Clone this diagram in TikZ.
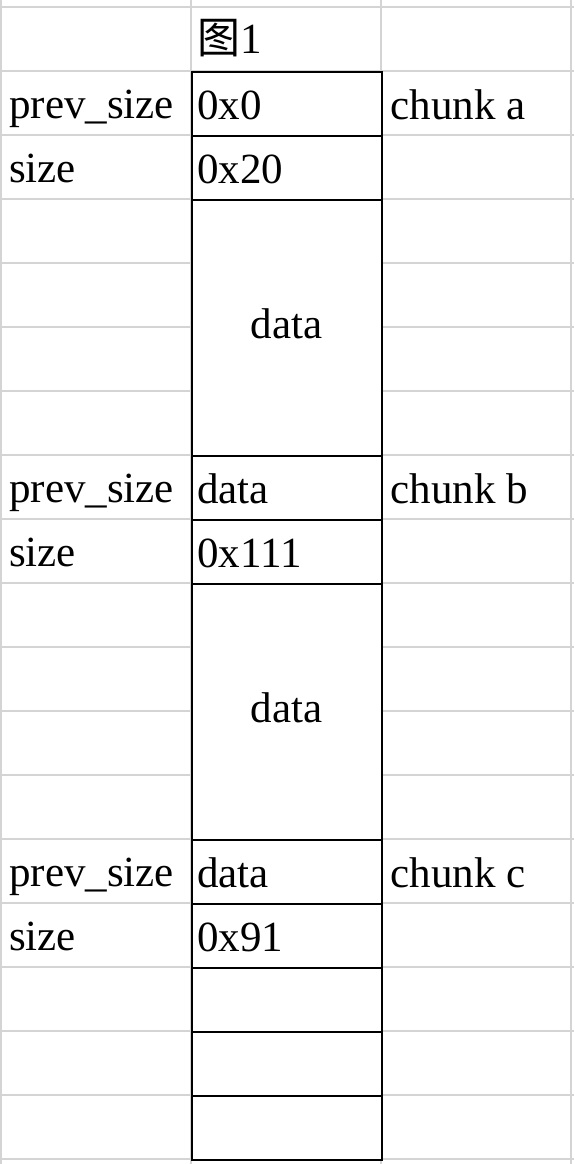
\documentclass[tikz,border=0pt]{standalone}
\usepackage{fontspec}
\setmainfont{Liberation Serif}
\newfontfamily\cjk{Noto Sans CJK SC}
\begin{document}
\begin{tikzpicture}[
			x=1pt,y=-1pt,
			grid line/.style={draw=black!17,line width=1.4pt},
			memcell/.style={draw=black,fill=white,line width=1.6pt,minimum width=190pt,minimum height=64pt,inner sep=0pt,anchor=north west},
			celltext/.style={anchor=base west,inner sep=0pt,font=\fontsize{43}{50}\selectfont}
		]
		\useasboundingbox (0,0) rectangle (574,1164);
		% sheet grid
		\foreach \r in {0,...,18}
			\draw[grid line] (0,7+64*\r) -- (574,7+64*\r);
		\foreach \c in {1,191,381,571}
			\draw[grid line] (\c,0) -- (\c,1164);
		% memory column
		\node[memcell] (prevA) at (191,71) {};
		\node[memcell] (sizeA) at (191,135) {};
		\node[memcell,minimum height=256pt] (dataA) at (191,199) {};
		\node[memcell] (prevB) at (191,455) {};
		\node[memcell] (sizeB) at (191,519) {};
		\node[memcell,minimum height=256pt] (dataB) at (191,583) {};
		\node[memcell] (prevC) at (191,839) {};
		\node[memcell] (sizeC) at (191,903) {};
		\foreach \i in {0,1,2}
			\node[memcell] (freeC\i) at (191,967+64*\i) {};
		% title
		\node[celltext] (title) at (197,54) {{\cjk 图}1};
		% field names
		\node[celltext] (nprevA) at (9,118) {prev\_size};
		\node[celltext] (nsizeA) at (9,182) {size};
		\node[celltext] (nprevB) at (9,502) {prev\_size};
		\node[celltext] (nsizeB) at (9,566) {size};
		\node[celltext] (nprevC) at (9,886) {prev\_size};
		\node[celltext] (nsizeC) at (9,950) {size};
		% values
		\node[celltext] (vprevA) at ([shift={(6pt,17pt)}]prevA.south west) {0x0};
		\node[celltext] (vsizeA) at ([shift={(6pt,17pt)}]sizeA.south west) {0x20};
		\node[celltext,anchor=base] (vdataA) at ([yshift=-11pt]dataA.center) {data};
		\node[celltext] (vprevB) at ([shift={(6pt,17pt)}]prevB.south west) {data};
		\node[celltext] (vsizeB) at ([shift={(6pt,17pt)}]sizeB.south west) {0x111};
		\node[celltext,anchor=base] (vdataB) at ([yshift=-11pt]dataB.center) {data};
		\node[celltext] (vprevC) at ([shift={(6pt,17pt)}]prevC.south west) {data};
		\node[celltext] (vsizeC) at ([shift={(6pt,17pt)}]sizeC.south west) {0x91};
		% chunk names
		\node[celltext] (chunkA) at ([shift={(8pt,17pt)}]prevA.south east) {chunk a};
		\node[celltext] (chunkB) at ([shift={(8pt,17pt)}]prevB.south east) {chunk b};
		\node[celltext] (chunkC) at ([shift={(8pt,17pt)}]prevC.south east) {chunk c};
	\end{tikzpicture}
\end{document}
